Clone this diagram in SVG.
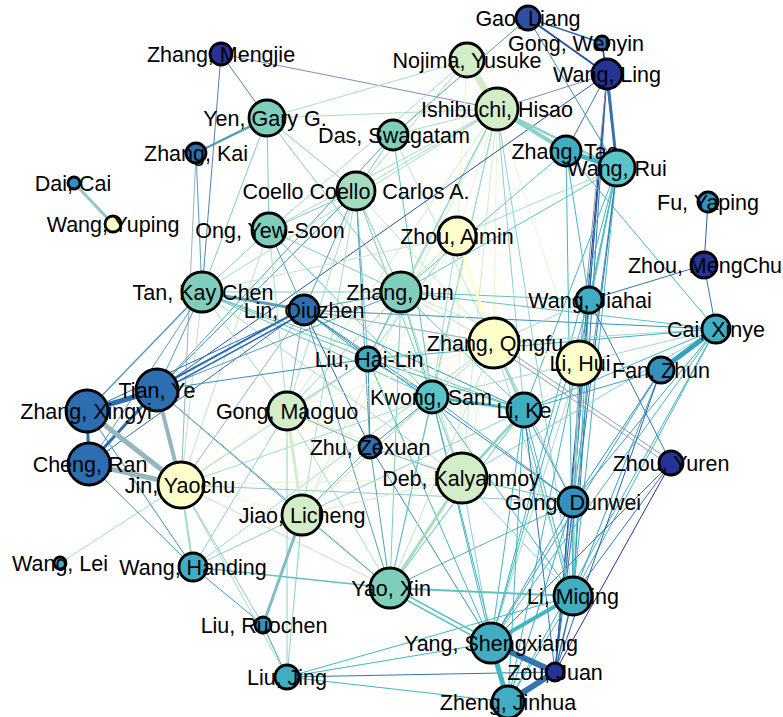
<svg xmlns="http://www.w3.org/2000/svg" width="783" height="717" viewBox="0 0 783 717">
<style>
.edges line{stroke-width:1;fill:none;stroke-linecap:round}
.e00{stroke:#ffffcc}.e01{stroke:#e9f6cb}.e02{stroke:#bfe6c4}.e03{stroke:#a0dbc8}.e04{stroke:#96c6c5}.e05{stroke:#96b6be}.e06{stroke:#929ab0}
.e11{stroke:#d3edc9}.e12{stroke:#a9ddc2}.e13{stroke:#8ad2c7}.e14{stroke:#80bdc4}.e15{stroke:#80adbd}.e16{stroke:#7c91af}
.e22{stroke:#7fcdbb}.e23{stroke:#60c2c0}.e24{stroke:#56adbd}.e25{stroke:#569db6}.e26{stroke:#5281a8}
.e33{stroke:#41b6c4}.e34{stroke:#37a1c1}.e35{stroke:#3792ba}.e36{stroke:#3375ac}
.e44{stroke:#2d8cbe}.e45{stroke:#2d7db7}.e46{stroke:#2960a9}
.e55{stroke:#2c6db0}.e56{stroke:#2951a2}.e66{stroke:#253494}
.node circle{stroke:#000;stroke-width:2.8}
.node text{font-family:"Liberation Sans",Arial,sans-serif;font-size:21.5px;text-anchor:middle;fill:#000}
.n0{fill:#ffffcc}.n1{fill:#d3edc9}.n15{fill:#a5dcc0}.n2{fill:#7fcdbb}.n25{fill:#5bc4c7}.n3{fill:#40adc3}.n4{fill:#3590c0}.n5{fill:#2d6eb0}.n55{fill:#2c4fa0}.n6{fill:#253494}
</style>
<rect width="783" height="717" fill="#ffffff"/>
<g id="edges" class="edges">
<line class="e26" x1="221" y1="54" x2="267" y2="118"/>
<line class="e26" x1="221" y1="54" x2="202" y2="292"/>
<line class="e16" x1="221" y1="54" x2="497" y2="109"/>
<line class="e25" x1="196" y1="153" x2="202" y2="292"/>
<line class="e05" x1="196" y1="153" x2="181" y2="485"/>
<line class="e22" x1="267" y1="118" x2="269" y2="230"/>
<line class="e22" x1="267" y1="118" x2="202" y2="292"/>
<line class="e22" x1="267" y1="118" x2="401" y2="292"/>
<line class="e12" x1="267" y1="118" x2="467" y2="60"/>
<line class="e12" x1="267" y1="118" x2="497" y2="109"/>
<line class="e22" x1="267" y1="118" x2="356" y2="191"/>
<line class="e25" x1="393" y1="135" x2="528" y2="18"/>
<line class="e22" x1="393" y1="135" x2="356" y2="191"/>
<line class="e25" x1="393" y1="135" x2="157" y2="390"/>
<line class="e12" x1="393" y1="135" x2="497" y2="109"/>
<line class="e02" x1="393" y1="135" x2="494" y2="343"/>
<line class="e23" x1="393" y1="135" x2="432" y2="397"/>
<line class="e12" x1="467" y1="60" x2="356" y2="191"/>
<line class="e12" x1="467" y1="60" x2="269" y2="230"/>
<line class="e01" x1="467" y1="60" x2="457" y2="236"/>
<line class="e12" x1="497" y1="109" x2="356" y2="191"/>
<line class="e12" x1="497" y1="109" x2="401" y2="292"/>
<line class="e01" x1="497" y1="109" x2="457" y2="236"/>
<line class="e01" x1="497" y1="109" x2="494" y2="343"/>
<line class="e13" x1="497" y1="109" x2="432" y2="397"/>
<line class="e13" x1="497" y1="109" x2="524" y2="410"/>
<line class="e11" x1="497" y1="109" x2="462" y2="478"/>
<line class="e01" x1="497" y1="109" x2="579" y2="363"/>
<line class="e12" x1="497" y1="109" x2="202" y2="292"/>
<line class="e12" x1="497" y1="109" x2="269" y2="230"/>
<line class="e11" x1="497" y1="109" x2="302" y2="515"/>
<line class="e11" x1="497" y1="109" x2="287" y2="411"/>
<line class="e13" x1="497" y1="109" x2="368" y2="359"/>
<line class="e12" x1="497" y1="109" x2="390" y2="588"/>
<line class="e13" x1="497" y1="109" x2="573" y2="596"/>
<line class="e16" x1="607" y1="74" x2="497" y2="109"/>
<line class="e36" x1="607" y1="74" x2="566" y2="151"/>
<line class="e56" x1="607" y1="74" x2="157" y2="390"/>
<line class="e36" x1="607" y1="74" x2="589" y2="300"/>
<line class="e46" x1="607" y1="74" x2="573" y2="502"/>
<line class="e36" x1="607" y1="74" x2="573" y2="596"/>
<line class="e66" x1="607" y1="74" x2="555" y2="672"/>
<line class="e06" x1="607" y1="74" x2="579" y2="363"/>
<line class="e35" x1="602" y1="43" x2="617" y2="168"/>
<line class="e35" x1="528" y1="18" x2="617" y2="168"/>
<line class="e33" x1="566" y1="151" x2="716" y2="329"/>
<line class="e23" x1="566" y1="151" x2="401" y2="292"/>
<line class="e33" x1="566" y1="151" x2="573" y2="596"/>
<line class="e33" x1="566" y1="151" x2="589" y2="300"/>
<line class="e23" x1="617" y1="168" x2="401" y2="292"/>
<line class="e33" x1="617" y1="168" x2="589" y2="300"/>
<line class="e03" x1="617" y1="168" x2="579" y2="363"/>
<line class="e34" x1="617" y1="168" x2="573" y2="502"/>
<line class="e33" x1="617" y1="168" x2="573" y2="596"/>
<line class="e33" x1="617" y1="168" x2="491" y2="643"/>
<line class="e36" x1="617" y1="168" x2="555" y2="672"/>
<line class="e33" x1="617" y1="168" x2="524" y2="410"/>
<line class="e33" x1="617" y1="168" x2="508" y2="702"/>
<line class="e03" x1="617" y1="168" x2="457" y2="236"/>
<line class="e46" x1="708" y1="202" x2="704" y2="265"/>
<line class="e36" x1="704" y1="265" x2="716" y2="329"/>
<line class="e36" x1="704" y1="265" x2="589" y2="300"/>
<line class="e22" x1="356" y1="191" x2="269" y2="230"/>
<line class="e23" x1="356" y1="191" x2="368" y2="359"/>
<line class="e22" x1="356" y1="191" x2="401" y2="292"/>
<line class="e25" x1="356" y1="191" x2="370" y2="447"/>
<line class="e23" x1="356" y1="191" x2="432" y2="397"/>
<line class="e25" x1="356" y1="191" x2="157" y2="390"/>
<line class="e12" x1="356" y1="191" x2="302" y2="515"/>
<line class="e02" x1="356" y1="191" x2="494" y2="343"/>
<line class="e12" x1="356" y1="191" x2="462" y2="478"/>
<line class="e25" x1="356" y1="191" x2="304" y2="310"/>
<line class="e12" x1="356" y1="191" x2="287" y2="411"/>
<line class="e22" x1="269" y1="230" x2="202" y2="292"/>
<line class="e25" x1="269" y1="230" x2="304" y2="310"/>
<line class="e12" x1="269" y1="230" x2="287" y2="411"/>
<line class="e02" x1="269" y1="230" x2="181" y2="485"/>
<line class="e22" x1="269" y1="230" x2="401" y2="292"/>
<line class="e23" x1="269" y1="230" x2="432" y2="397"/>
<line class="e02" x1="457" y1="236" x2="401" y2="292"/>
<line class="e01" x1="457" y1="236" x2="462" y2="478"/>
<line class="e00" x1="457" y1="236" x2="181" y2="485"/>
<line class="e01" x1="457" y1="236" x2="287" y2="411"/>
<line class="e01" x1="457" y1="236" x2="302" y2="515"/>
<line class="e03" x1="457" y1="236" x2="432" y2="397"/>
<line class="e03" x1="457" y1="236" x2="368" y2="359"/>
<line class="e00" x1="457" y1="236" x2="579" y2="363"/>
<line class="e02" x1="457" y1="236" x2="202" y2="292"/>
<line class="e22" x1="202" y1="292" x2="401" y2="292"/>
<line class="e23" x1="202" y1="292" x2="368" y2="359"/>
<line class="e23" x1="202" y1="292" x2="432" y2="397"/>
<line class="e02" x1="202" y1="292" x2="494" y2="343"/>
<line class="e23" x1="202" y1="292" x2="524" y2="410"/>
<line class="e12" x1="202" y1="292" x2="462" y2="478"/>
<line class="e25" x1="202" y1="292" x2="157" y2="390"/>
<line class="e02" x1="202" y1="292" x2="181" y2="485"/>
<line class="e12" x1="202" y1="292" x2="287" y2="411"/>
<line class="e25" x1="202" y1="292" x2="89" y2="464"/>
<line class="e25" x1="304" y1="310" x2="401" y2="292"/>
<line class="e35" x1="304" y1="310" x2="368" y2="359"/>
<line class="e55" x1="304" y1="310" x2="370" y2="447"/>
<line class="e35" x1="304" y1="310" x2="432" y2="397"/>
<line class="e05" x1="304" y1="310" x2="494" y2="343"/>
<line class="e35" x1="304" y1="310" x2="716" y2="329"/>
<line class="e35" x1="304" y1="310" x2="524" y2="410"/>
<line class="e15" x1="304" y1="310" x2="287" y2="411"/>
<line class="e25" x1="304" y1="310" x2="390" y2="588"/>
<line class="e55" x1="304" y1="310" x2="87" y2="411"/>
<line class="e55" x1="304" y1="310" x2="89" y2="464"/>
<line class="e05" x1="304" y1="310" x2="181" y2="485"/>
<line class="e45" x1="304" y1="310" x2="573" y2="502"/>
<line class="e23" x1="401" y1="292" x2="432" y2="397"/>
<line class="e23" x1="401" y1="292" x2="368" y2="359"/>
<line class="e02" x1="401" y1="292" x2="494" y2="343"/>
<line class="e02" x1="401" y1="292" x2="579" y2="363"/>
<line class="e23" x1="401" y1="292" x2="716" y2="329"/>
<line class="e23" x1="401" y1="292" x2="524" y2="410"/>
<line class="e12" x1="401" y1="292" x2="462" y2="478"/>
<line class="e12" x1="401" y1="292" x2="287" y2="411"/>
<line class="e23" x1="401" y1="292" x2="589" y2="300"/>
<line class="e22" x1="401" y1="292" x2="390" y2="588"/>
<line class="e36" x1="589" y1="300" x2="671" y2="463"/>
<line class="e33" x1="589" y1="300" x2="573" y2="596"/>
<line class="e33" x1="589" y1="300" x2="491" y2="643"/>
<line class="e34" x1="589" y1="300" x2="573" y2="502"/>
<line class="e03" x1="589" y1="300" x2="494" y2="343"/>
<line class="e36" x1="589" y1="300" x2="555" y2="672"/>
<line class="e04" x1="579" y1="363" x2="573" y2="502"/>
<line class="e03" x1="579" y1="363" x2="573" y2="596"/>
<line class="e03" x1="579" y1="363" x2="491" y2="643"/>
<line class="e03" x1="579" y1="363" x2="716" y2="329"/>
<line class="e03" x1="579" y1="363" x2="432" y2="397"/>
<line class="e01" x1="579" y1="363" x2="462" y2="478"/>
<line class="e03" x1="716" y1="329" x2="494" y2="343"/>
<line class="e33" x1="716" y1="329" x2="524" y2="410"/>
<line class="e34" x1="716" y1="329" x2="573" y2="502"/>
<line class="e33" x1="716" y1="329" x2="573" y2="596"/>
<line class="e33" x1="716" y1="329" x2="491" y2="643"/>
<line class="e33" x1="716" y1="329" x2="508" y2="702"/>
<line class="e13" x1="716" y1="329" x2="462" y2="478"/>
<line class="e33" x1="716" y1="329" x2="368" y2="359"/>
<line class="e34" x1="661" y1="370" x2="524" y2="410"/>
<line class="e44" x1="661" y1="370" x2="573" y2="502"/>
<line class="e34" x1="661" y1="370" x2="491" y2="643"/>
<line class="e34" x1="661" y1="370" x2="573" y2="596"/>
<line class="e46" x1="661" y1="370" x2="555" y2="672"/>
<line class="e06" x1="494" y1="341" x2="671" y2="461"/>
<line class="e06" x1="494" y1="346" x2="671" y2="466"/>
<line class="e36" x1="671" y1="463" x2="573" y2="596"/>
<line class="e36" x1="671" y1="463" x2="491" y2="643"/>
<line class="e66" x1="671" y1="463" x2="555" y2="672"/>
<line class="e14" x1="573" y1="502" x2="462" y2="478"/>
<line class="e34" x1="573" y1="502" x2="573" y2="596"/>
<line class="e34" x1="573" y1="502" x2="491" y2="643"/>
<line class="e46" x1="573" y1="502" x2="555" y2="672"/>
<line class="e34" x1="573" y1="502" x2="508" y2="702"/>
<line class="e24" x1="573" y1="502" x2="390" y2="588"/>
<line class="e34" x1="573" y1="502" x2="432" y2="397"/>
<line class="e04" x1="573" y1="502" x2="494" y2="343"/>
<line class="e34" x1="573" y1="502" x2="524" y2="410"/>
<line class="e04" x1="573" y1="502" x2="181" y2="485"/>
<line class="e33" x1="573" y1="596" x2="524" y2="410"/>
<line class="e33" x1="570" y1="596" x2="521" y2="410"/>
<line class="e33" x1="573" y1="596" x2="432" y2="397"/>
<line class="e03" x1="573" y1="596" x2="494" y2="343"/>
<line class="e33" x1="573" y1="596" x2="508" y2="702"/>
<line class="e33" x1="573" y1="596" x2="287" y2="677"/>
<line class="e13" x1="573" y1="596" x2="462" y2="478"/>
<line class="e33" x1="491" y1="643" x2="524" y2="410"/>
<line class="e35" x1="491" y1="643" x2="370" y2="447"/>
<line class="e33" x1="491" y1="643" x2="287" y2="677"/>
<line class="e13" x1="491" y1="643" x2="462" y2="478"/>
<line class="e33" x1="491" y1="643" x2="432" y2="397"/>
<line class="e33" x1="491" y1="643" x2="368" y2="359"/>
<line class="e36" x1="555" y1="672" x2="287" y2="677"/>
<line class="e36" x1="555" y1="672" x2="524" y2="410"/>
<line class="e33" x1="508" y1="702" x2="287" y2="677"/>
<line class="e33" x1="508" y1="702" x2="524" y2="410"/>
<line class="e33" x1="508" y1="702" x2="432" y2="397"/>
<line class="e02" x1="390" y1="588" x2="181" y2="485"/>
<line class="e12" x1="390" y1="588" x2="302" y2="515"/>
<line class="e12" x1="390" y1="588" x2="287" y2="411"/>
<line class="e02" x1="390" y1="588" x2="494" y2="343"/>
<line class="e23" x1="390" y1="588" x2="524" y2="410"/>
<line class="e23" x1="390" y1="588" x2="432" y2="397"/>
<line class="e25" x1="390" y1="588" x2="157" y2="390"/>
<line class="e25" x1="390" y1="588" x2="370" y2="447"/>
<line class="e34" x1="193" y1="567" x2="263" y2="625"/>
<line class="e13" x1="193" y1="567" x2="302" y2="515"/>
<line class="e03" x1="193" y1="567" x2="494" y2="343"/>
<line class="e13" x1="193" y1="567" x2="287" y2="411"/>
<line class="e34" x1="263" y1="625" x2="287" y2="677"/>
<line class="e04" x1="263" y1="625" x2="181" y2="485"/>
<line class="e13" x1="287" y1="677" x2="302" y2="515"/>
<line class="e03" x1="287" y1="677" x2="181" y2="485"/>
<line class="e13" x1="287" y1="677" x2="287" y2="411"/>
<line class="e03" x1="60" y1="563" x2="181" y2="485"/>
<line class="e01" x1="181" y1="485" x2="462" y2="478"/>
<line class="e00" x1="181" y1="485" x2="494" y2="343"/>
<line class="e01" x1="181" y1="485" x2="287" y2="411"/>
<line class="e01" x1="181" y1="485" x2="302" y2="515"/>
<line class="e03" x1="181" y1="485" x2="368" y2="359"/>
<line class="e03" x1="181" y1="485" x2="432" y2="397"/>
<line class="e35" x1="87" y1="411" x2="193" y2="567"/>
<line class="e35" x1="89" y1="464" x2="193" y2="567"/>
<line class="e25" x1="157" y1="390" x2="401" y2="292"/>
<line class="e15" x1="157" y1="390" x2="302" y2="515"/>
<line class="e35" x1="157" y1="390" x2="368" y2="359"/>
<line class="e35" x1="370" y1="447" x2="432" y2="397"/>
<line class="e15" x1="370" y1="447" x2="462" y2="478"/>
<line class="e15" x1="370" y1="447" x2="287" y2="411"/>
<line class="e15" x1="370" y1="447" x2="302" y2="515"/>
<line class="e35" x1="370" y1="447" x2="368" y2="359"/>
<line class="e03" x1="432" y1="397" x2="494" y2="343"/>
<line class="e33" x1="432" y1="397" x2="368" y2="359"/>
<line class="e13" x1="432" y1="397" x2="462" y2="478"/>
<line class="e13" x1="432" y1="397" x2="302" y2="515"/>
<line class="e33" x1="524" y1="410" x2="368" y2="359"/>
<line class="e03" x1="368" y1="359" x2="494" y2="343"/>
<line class="e13" x1="368" y1="359" x2="287" y2="411"/>
<line class="e01" x1="462" y1="478" x2="494" y2="343"/>
<line class="e11" x1="462" y1="478" x2="287" y2="411"/>
<line class="e11" x1="462" y1="478" x2="302" y2="515"/>
<line class="e01" x1="287" y1="411" x2="494" y2="343"/>
<line class="e01" x1="302" y1="515" x2="494" y2="343"/>
<line class="e13" x1="302" y1="515" x2="524" y2="410"/>
<!-- heavier edges -->
<line class="e55" style="stroke-width:2" x1="157" y1="388" x2="304" y2="308"/>
<line class="e55" style="stroke-width:1.5" x1="157" y1="393" x2="304" y2="313"/>
<line class="e25" style="stroke-width:1.5" x1="87" y1="411" x2="202" y2="292"/>
<line class="e23" style="stroke-width:2" x1="390" y1="588" x2="573" y2="596"/>
<line class="e23" style="stroke-width:1.5" x1="193" y1="567" x2="390" y2="588"/>
<line class="e03" style="stroke-width:2" x1="181" y1="485" x2="193" y2="567"/>
<line class="e03" style="stroke-width:2.5" x1="494" y1="343" x2="524" y2="410"/>
<line class="e13" style="stroke-width:2.5" x1="462" y1="478" x2="524" y2="410"/>
<line class="e23" style="stroke-width:1.5" x1="390" y1="586" x2="491" y2="641"/>
<line class="e23" style="stroke-width:1.5" x1="390" y1="591" x2="491" y2="646"/>
<line class="e36" style="stroke-width:1.5" x1="573" y1="596" x2="555" y2="672"/>
<line class="e55" style="stroke-width:1.5" x1="528" y1="18" x2="602" y2="43"/>
<line class="e56" style="stroke-width:1.5" x1="602" y1="43" x2="607" y2="74"/>
<line class="e56" style="stroke-width:2" x1="528" y1="18" x2="607" y2="74"/>
<line class="e36" style="stroke-width:3" x1="607" y1="74" x2="617" y2="168"/>
<line class="e00" style="stroke-width:3" x1="457" y1="236" x2="494" y2="343"/>
<line class="e33" style="stroke-width:3" x1="432" y1="397" x2="524" y2="410"/>
<line class="e00" style="stroke-width:3" x1="494" y1="343" x2="579" y2="363"/>
<line class="e12" style="stroke-width:3" x1="462" y1="478" x2="390" y2="588"/>
<line class="e14" style="stroke-width:3" x1="302" y1="515" x2="263" y2="625"/>
<line class="e11" style="stroke-width:3" x1="287" y1="411" x2="302" y2="515"/>
<line class="e25" style="stroke-width:3" x1="202" y1="292" x2="304" y2="310"/>
<line class="e25" style="stroke-width:2.5" x1="196" y1="153" x2="267" y2="118"/>
<line class="e33" style="stroke-width:4" x1="491" y1="643" x2="573" y2="596"/>
<line class="e33" style="stroke-width:5" x1="491" y1="643" x2="508" y2="702"/>
<line class="e36" style="stroke-width:6" x1="555" y1="672" x2="508" y2="702"/>
<line class="e36" style="stroke-width:6" x1="491" y1="643" x2="555" y2="672"/>
<line class="e34" style="stroke-width:5" x1="716" y1="329" x2="661" y2="370"/>
<line class="e55" style="stroke-width:3" x1="87" y1="411" x2="89" y2="464"/>
<line class="e55" style="stroke-width:3" x1="157" y1="390" x2="89" y2="464"/>
<line class="e05" style="stroke-width:4" x1="157" y1="390" x2="181" y2="485"/>
<line class="e05" style="stroke-width:5" x1="89" y1="464" x2="181" y2="485"/>
<line class="e05" style="stroke-width:5" x1="87" y1="411" x2="181" y2="485"/>
<line class="e55" style="stroke-width:5" x1="157" y1="390" x2="87" y2="411"/>
<line class="e04" style="stroke-width:3" x1="74" y1="183" x2="113" y2="224"/>
<line class="e13" style="stroke-width:2.5" x1="497" y1="109" x2="617" y2="168"/>
<line class="e33" style="stroke-width:5" x1="566" y1="151" x2="617" y2="168"/>
<line class="e13" style="stroke-width:4" x1="497" y1="109" x2="566" y2="151"/>
<line class="e11" style="stroke-width:7" x1="467" y1="60" x2="497" y2="109"/>
</g>
<g id="n-gao-liang" class="node"><circle class="n55" cx="528" cy="18" r="12"/><text x="528" y="25.5">Gao, Liang</text></g>
<g id="n-gong-wenyin" class="node"><circle class="n5" cx="602" cy="43" r="7"/><text x="576" y="50.5">Gong, Wenyin</text></g>
<g id="n-wang-ling" class="node"><circle class="n6" cx="607" cy="74" r="15"/><text x="607" y="81.5">Wang, Ling</text></g>
<g id="n-nojima-yusuke" class="node"><circle class="n1" cx="467" cy="60" r="17"/><text x="467" y="67.5">Nojima, Yusuke</text></g>
<g id="n-ishibuchi-hisao" class="node"><circle class="n1" cx="497" cy="109" r="21"/><text x="497" y="116.5">Ishibuchi, Hisao</text></g>
<g id="n-zhang-mengjie" class="node"><circle class="n6" cx="221" cy="54" r="11"/><text x="221" y="61.5">Zhang, Mengjie</text></g>
<g id="n-yen-gary" class="node"><circle class="n2" cx="267" cy="118" r="18"/><text x="265" y="125.5">Yen, Gary G.</text></g>
<g id="n-das-swagatam" class="node"><circle class="n2" cx="393" cy="135" r="15"/><text x="394" y="142.5">Das, Swagatam</text></g>
<g id="n-zhang-kai" class="node"><circle class="n5" cx="196" cy="153" r="10"/><text x="196" y="160.5">Zhang, Kai</text></g>
<g id="n-dai-cai" class="node"><circle class="n4" cx="74" cy="183" r="6"/><text x="73" y="190.5">Dai, Cai</text></g>
<g id="n-wang-yuping" class="node"><circle class="n0" cx="113" cy="224" r="8"/><text x="113" y="231.5">Wang, Yuping</text></g>
<g id="n-coello" class="node"><circle class="n15" cx="356" cy="191" r="19"/><text x="356" y="198.5">Coello Coello, Carlos A.</text></g>
<g id="n-ong-yew-soon" class="node"><circle class="n2" cx="269" cy="230" r="17"/><text x="270" y="237.5">Ong, Yew-Soon</text></g>
<g id="n-zhou-aimin" class="node"><circle class="n0" cx="457" cy="236" r="19"/><text x="457" y="243.5">Zhou, Aimin</text></g>
<g id="n-zhang-tao" class="node"><circle class="n3" cx="566" cy="151" r="15"/><text x="565" y="158.5">Zhang, Tao</text></g>
<g id="n-wang-rui" class="node"><circle class="n25" cx="617" cy="168" r="18"/><text x="617" y="175.5">Wang, Rui</text></g>
<g id="n-fu-yaping" class="node"><circle class="n4" cx="708" cy="202" r="10"/><text x="708" y="209.5">Fu, Yaping</text></g>
<g id="n-zhou-mengchu" class="node"><circle class="n6" cx="704" cy="265" r="13"/><text x="705" y="272.5">Zhou, MengChu</text></g>
<g id="n-tan-kay-chen" class="node"><circle class="n2" cx="202" cy="292" r="20"/><text x="203" y="299.5">Tan, Kay Chen</text></g>
<g id="n-lin-qiuzhen" class="node"><circle class="n5" cx="304" cy="310" r="15"/><text x="304" y="317.5">Lin, Qiuzhen</text></g>
<g id="n-zhang-jun" class="node"><circle class="n2" cx="401" cy="292" r="20"/><text x="400" y="299.5">Zhang, Jun</text></g>
<g id="n-wang-jiahai" class="node"><circle class="n3" cx="589" cy="300" r="13"/><text x="590" y="307.5">Wang, Jiahai</text></g>
<g id="n-cai-xinye" class="node"><circle class="n3" cx="716" cy="329" r="14"/><text x="716" y="336.5">Cai, Xinye</text></g>
<g id="n-zhang-qingfu" class="node"><circle class="n0" cx="494" cy="343" r="25"/><text x="495" y="350.5">Zhang, Qingfu</text></g>
<g id="n-li-hui" class="node"><circle class="n0" cx="579" cy="363" r="22"/><text x="580" y="370.5">Li, Hui</text></g>
<g id="n-fan-zhun" class="node"><circle class="n4" cx="661" cy="370" r="13"/><text x="661" y="377.5">Fan, Zhun</text></g>
<g id="n-liu-hai-lin" class="node"><circle class="n3" cx="368" cy="359" r="12"/><text x="369" y="366.5">Liu, Hai-Lin</text></g>
<g id="n-kwong-sam" class="node"><circle class="n25" cx="432" cy="397" r="16"/><text x="431" y="404.5">Kwong, Sam</text></g>
<g id="n-li-ke" class="node"><circle class="n3" cx="524" cy="410" r="17"/><text x="524" y="417.5">Li, Ke</text></g>
<g id="n-tian-ye" class="node"><circle class="n5" cx="157" cy="390" r="21"/><text x="157" y="397.5">Tian, Ye</text></g>
<g id="n-zhang-xingyi" class="node"><circle class="n5" cx="87" cy="411" r="21"/><text x="86" y="418.5">Zhang, Xingyi</text></g>
<g id="n-gong-maoguo" class="node"><circle class="n1" cx="287" cy="411" r="19"/><text x="287" y="418.5">Gong, Maoguo</text></g>
<g id="n-zhu-zexuan" class="node"><circle class="n5" cx="370" cy="447" r="11"/><text x="370" y="454.5">Zhu, Zexuan</text></g>
<g id="n-cheng-ran" class="node"><circle class="n5" cx="89" cy="464" r="21"/><text x="90" y="471.5">Cheng, Ran</text></g>
<g id="n-jin-yaochu" class="node"><circle class="n0" cx="181" cy="485" r="23"/><text x="180" y="492.5">Jin, Yaochu</text></g>
<g id="n-deb-kalyanmoy" class="node"><circle class="n1" cx="462" cy="478" r="25"/><text x="461" y="485.5">Deb, Kalyanmoy</text></g>
<g id="n-zhou-yuren" class="node"><circle class="n6" cx="671" cy="463" r="12"/><text x="671" y="470.5">Zhou, Yuren</text></g>
<g id="n-gong-dunwei" class="node"><circle class="n4" cx="573" cy="502" r="15"/><text x="573" y="509.5">Gong, Dunwei</text></g>
<g id="n-jiao-licheng" class="node"><circle class="n1" cx="302" cy="515" r="20"/><text x="302" y="522.5">Jiao, Licheng</text></g>
<g id="n-wang-lei" class="node"><circle class="n3" cx="60" cy="563" r="6"/><text x="60" y="570.5">Wang, Lei</text></g>
<g id="n-wang-handing" class="node"><circle class="n3" cx="193" cy="567" r="14"/><text x="193" y="574.5">Wang, Handing</text></g>
<g id="n-yao-xin" class="node"><circle class="n2" cx="390" cy="588" r="20"/><text x="391" y="595.5">Yao, Xin</text></g>
<g id="n-li-miqing" class="node"><circle class="n3" cx="573" cy="596" r="19"/><text x="573" y="603.5">Li, Miqing</text></g>
<g id="n-liu-ruochen" class="node"><circle class="n4" cx="263" cy="625" r="8"/><text x="264" y="632.5">Liu, Ruochen</text></g>
<g id="n-yang-shengxiang" class="node"><circle class="n3" cx="491" cy="643" r="20"/><text x="491" y="650.5">Yang, Shengxiang</text></g>
<g id="n-zou-juan" class="node"><circle class="n6" cx="555" cy="672" r="9"/><text x="555" y="679.5">Zou, Juan</text></g>
<g id="n-liu-jing" class="node"><circle class="n3" cx="287" cy="677" r="12"/><text x="287" y="684.5">Liu, Jing</text></g>
<g id="n-zheng-jinhua" class="node"><circle class="n3" cx="508" cy="702" r="16"/><text x="508" y="709.5">Zheng, Jinhua</text></g>
</svg>
